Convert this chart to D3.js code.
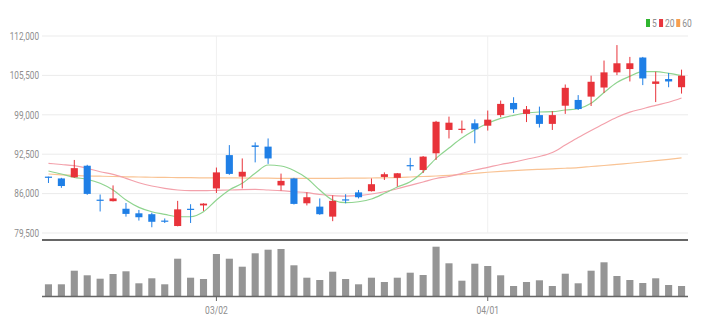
<!DOCTYPE html>
<html>
<head>
<meta charset="utf-8">
<script src="https://cdn.jsdelivr.net/npm/d3@7/dist/d3.min.js"></script>
<style>
  html, body { margin: 0; padding: 0; background: #fff; }
  svg { display: block; }
  .lbl { font-family: "Liberation Sans Narrow", "Roboto", sans-serif; fill: #8e8e8e; }
</style>
</head>
<body>
<svg id="chart" width="704" height="333"></svg>
<script>
// Trading days (MM/DD)
const dates = [
  "02/10","02/11","02/14","02/15","02/16","02/17","02/18","02/21","02/22","02/23",
  "02/24","02/25","02/28","03/02","03/03","03/04","03/07","03/08","03/10","03/11",
  "03/14","03/15","03/16","03/17","03/18","03/21","03/22","03/23","03/24","03/25",
  "03/28","03/29","03/30","03/31","04/01","04/04","04/05","04/06","04/07","04/08",
  "04/11","04/12","04/13","04/14","04/15","04/18","04/19","04/20","04/21","04/22"
];

// Daily prices
const open  = [88800,88500,88700,90600,85000,84750,83500,82750,82600,81550,
               80650,83500,84050,86850,92350,88800,93950,93750,87350,88500,
               84400,83850,82200,85050,86200,86400,88750,88600,90700,89900,
               92650,96500,96500,97600,97200,98950,100950,99150,98950,97500,
               100500,101450,102000,103500,106000,106550,108450,104100,104900,103550];
const high  = [88800,88600,91550,90750,85850,87350,84450,83300,82850,81900,
               84800,84250,84400,90300,94000,91800,94450,95100,89300,88600,
               86200,85200,85700,85900,86600,88500,89500,89400,91900,92200,
               98000,98700,98050,98250,99700,101350,101900,100450,100350,99600,
               104000,102250,105450,107950,110500,108550,108550,106100,105900,106450];
const low   = [87750,86950,88600,85800,83050,84700,82200,81550,80450,81150,
               80600,81150,83150,86100,89100,86850,91150,90900,86500,84200,
               84050,82500,81450,84400,85200,86350,88250,87150,89800,89400,
               91550,95100,95950,94300,96400,98600,99300,97800,96900,96500,
               99150,99800,100450,102600,105550,104500,103900,101100,103550,102500];
const close = [88600,87250,90200,85950,84850,85200,82650,82100,81350,81350,
               83400,83300,84350,89500,89250,89600,93700,91800,88100,84300,
               85400,82600,84800,84900,85400,87550,89200,89350,90550,92100,
               97850,97700,96700,96600,98200,100800,99900,99900,97500,98950,
               103450,99950,104450,106000,107500,107500,105000,104500,104500,105450];

// Moving averages (5, 20, 60 days)
const ma5  = [89725,89230,88685,88355,87700,86590,84940,83735,83010,82580,
              82185,82185,83010,84940,86590,87700,89350,90715,90550,89810,
              88520,86590,84940,84495,84660,85105,86045,87085,87960,89610,
              91820,93520,95170,96490,97595,98420,98915,99295,99460,99510,
              99790,100000,100895,102675,104325,105365,106110,106110,105845,105485];
const ma20 = [90995,90800,90600,90170,89610,89180,88520,87795,87250,86870,
              86590,86475,86475,86540,86590,86670,86705,86590,86475,86310,
              86145,85850,85680,85600,85680,85930,86310,86805,87365,87910,
              88490,88820,89345,89890,90335,90800,91180,91670,92120,92780,
              94015,95250,96410,97530,98585,99430,100005,100565,101075,101770];
const ma60 = [89230,89100,89000,88900,88870,88820,88770,88735,88700,88670,
              88640,88620,88600,88600,88590,88570,88555,88540,88520,88520,
              88520,88520,88520,88540,88555,88570,88600,88650,88735,88820,
              88900,89015,89180,89345,89525,89675,89790,89905,90005,90090,
              90185,90300,90470,90635,90830,91010,91210,91425,91655,91900];

// Daily volume (shares)
const volume = [1170000,1170000,2530000,2070000,1730000,2200000,2470000,1270000,1770000,1170000,
                3730000,1830000,1700000,4200000,3730000,2930000,4270000,4630000,4700000,3070000,
                1830000,1600000,2430000,1700000,1170000,1830000,1400000,1830000,2330000,2100000,
                4930000,3270000,1530000,3230000,3000000,2070000,1000000,1400000,1570000,1000000,
                2230000,1270000,2530000,3370000,2000000,1600000,1300000,1770000,1100000,1000000];

const priceTicks = [79500, 86000, 92500, 99000, 105500, 112000];
const dateTicks = ["03/02", "04/01"];

const maSeries = [
  { name: "5",  values: ma5,  line: "#8fd48f", key: "#2fb52f" },
  { name: "20", values: ma20, line: "#f3a1ab", key: "#e8353d" },
  { name: "60", values: ma60, line: "#f9c394", key: "#f7a04f" }
];

const UP = "#e8333a", DOWN = "#1f7fe6";

const svg = d3.select("#chart");
const left = 42, right = 688;
const priceTop = 36, priceBottom = 233;
const volTop = 244, volBottom = 296;

const x = d3.scaleBand().domain(dates).range([left, right])
  .paddingInner(0.45).paddingOuter(0.225);
const y = d3.scaleLinear().domain([79500, 112000]).range([priceBottom, priceTop]);
const yv = d3.scaleLinear().domain([0, 5200000]).range([volBottom, volTop]);
const cx = d => x(d) + x.bandwidth() / 2;

// Condense label glyphs horizontally
function condense(sel, k) {
  sel.each(function () {
    const w = this.getComputedTextLength();
    d3.select(this).attr("textLength", w * k).attr("lengthAdjust", "spacingAndGlyphs");
  });
}

// Horizontal grid
svg.append("g").selectAll("line").data(priceTicks).join("line")
  .attr("x1", left).attr("x2", right)
  .attr("y1", d => y(d)).attr("y2", d => y(d))
  .attr("stroke", "#ebebeb").attr("stroke-width", 1);

// Vertical grid at month starts
svg.append("g").selectAll("line").data(dateTicks).join("line")
  .attr("x1", d => cx(d)).attr("x2", d => cx(d))
  .attr("y1", priceTop).attr("y2", priceBottom)
  .attr("stroke", "#f0f0f0").attr("stroke-width", 1);

// Price axis labels
const yAxis = d3.axisLeft(y).tickValues(priceTicks).tickSize(0).tickPadding(3)
  .tickFormat(d3.format(","));
const gy = svg.append("g").attr("transform", `translate(${left},0)`).call(yAxis);
gy.select(".domain").remove();
gy.selectAll("text").attr("class", "lbl").attr("font-size", 10).call(condense, 0.82);

// Moving average lines
const maLine = vals => d3.line().x((d, i) => cx(dates[i])).y(d => y(d))
  .curve(d3.curveMonotoneX)(vals);
svg.append("g").selectAll("path").data(maSeries.slice().reverse()).join("path")
  .attr("d", s => maLine(s.values))
  .attr("fill", "none").attr("stroke", s => s.line).attr("stroke-width", 1.2);

// Candles
const candles = dates.map((d, i) => ({ d, o: open[i], h: high[i], l: low[i], c: close[i] }));
const cg = svg.append("g").selectAll("g").data(candles).join("g");
cg.append("line")
  .attr("x1", d => cx(d.d)).attr("x2", d => cx(d.d))
  .attr("y1", d => y(d.h)).attr("y2", d => y(d.l))
  .attr("stroke", d => d.c >= d.o ? UP : DOWN).attr("stroke-width", 1);
cg.append("rect")
  .attr("x", d => x(d.d)).attr("width", x.bandwidth())
  .attr("y", d => y(Math.max(d.o, d.c)))
  .attr("height", d => Math.max(1.2, Math.abs(y(d.o) - y(d.c))))
  .attr("fill", d => d.c >= d.o ? UP : DOWN);

// Separator between panes
svg.append("line").attr("x1", left).attr("x2", right)
  .attr("y1", 240).attr("y2", 240).attr("stroke", "#333").attr("stroke-width", 1.6);

// Volume bars
svg.append("g").selectAll("rect").data(volume).join("rect")
  .attr("x", (d, i) => x(dates[i])).attr("width", x.bandwidth())
  .attr("y", d => yv(d)).attr("height", d => volBottom - yv(d))
  .attr("fill", "#959595");

// Date axis
const xAxis = d3.axisBottom(x).tickValues(dateTicks).tickSize(5).tickPadding(6);
const gx = svg.append("g").attr("transform", `translate(0,${volBottom})`).call(xAxis);
gx.select(".domain").attr("d", `M${left},0.5H${right}`).attr("stroke", "#666").attr("stroke-width", 1.6);
gx.selectAll(".tick line").attr("stroke", "#666");
gx.selectAll("text").attr("class", "lbl").attr("font-size", 10).call(condense, 0.85);

// Legend
const lg = svg.append("g").attr("transform", "translate(646,23)");
let lx = 0;
maSeries.forEach(s => {
  lg.append("rect").attr("x", lx).attr("y", -4).attr("width", 4).attr("height", 8).attr("fill", s.key);
  const t = lg.append("text").attr("class", "lbl").attr("x", lx + 6).attr("y", 3.5)
    .attr("font-size", 10).text(s.name);
  t.call(condense, 0.85);
  lx += 6 + t.node().getComputedTextLength() * 0.85 + 3;
});
</script>
</body>
</html>
